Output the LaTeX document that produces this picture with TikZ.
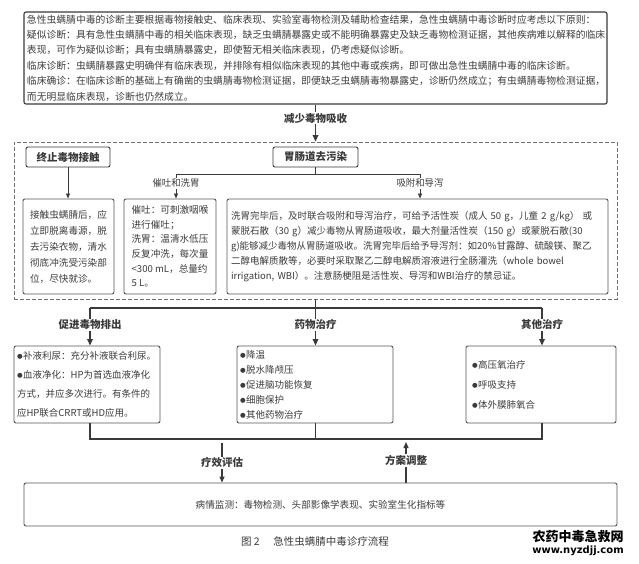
\documentclass[tikz,border=0pt]{standalone}
\usepackage{fontspec}
\setmainfont{Noto Sans CJK SC}
\newfontfamily\dvfont{DejaVu Sans}
\usetikzlibrary{arrows.meta}
\definecolor{linec}{HTML}{3A3A3A}
\definecolor{boxc}{HTML}{555555}
\definecolor{textc}{HTML}{3C3C3C}
\definecolor{dashc}{HTML}{707070}
\newcommand\mybul{{\dvfont\fontsize{6.5}{6.5}\selectfont\raisebox{0.6pt}{●}}\hspace{0.5pt}}
\begin{document}
\begin{tikzpicture}[x=1pt,y=-1pt,
  box/.style={draw=boxc, line width=0.9pt, rounded corners=2pt, fill=white, inner sep=0pt, text=textc},
  hbox/.style={box, draw=linec, font=\bfseries\fontsize{10.5}{12}\selectfont, text=linec},
  lab/.style={fill=white, inner sep=1.2pt, font=\bfseries\fontsize{10.5}{12}\selectfont, text=linec},
  sublab/.style={fill=white, inner sep=1.2pt, font=\fontsize{9.4}{11}\selectfont, text=textc},
  thinline/.style={draw=linec, line width=0.8pt},
  thinarrow/.style={thinline, -{Triangle[length=5pt,width=4pt]}},
  thickline/.style={draw=linec, line width=1.8pt},
  thickarrow/.style={thickline, -{Triangle[length=6.5pt,width=5.5pt]}},
  midarrow/.style={draw=linec, line width=1.3pt, -{Triangle[length=6pt,width=5pt]}}
]
\useasboundingbox (0,0) rectangle (639,563);

% top box
\node[box, draw=linec, line width=1.1pt, minimum width=583, minimum height=92,
      text width=577, align=left, font=\fontsize{9.8}{15.4}\selectfont] (top) at (315.5,58)
 {急性虫螨腈中毒的诊断主要根据毒物接触史、临床表现、实验室毒物检测及辅助检查结果，急性虫螨腈中毒诊断时应考虑以下原则：\\
  疑似诊断：具有急性虫螨腈中毒的相关临床表现，缺乏虫螨腈暴露史或不能明确暴露史及缺乏毒物检测证据，其他疾病难以解释的临床\\
  表现，可作为疑似诊断；具有虫螨腈暴露史，即使暂无相关临床表现，仍考虑疑似诊断。\\
  临床诊断：虫螨腈暴露史明确伴有临床表现，并排除有相似临床表现的其他中毒或疾病，即可做出急性虫螨腈中毒的临床诊断。\\
  临床确诊：在临床诊断的基础上有确凿的虫螨腈毒物检测证据，即便缺乏虫螨腈毒物暴露史，诊断仍然成立；有虫螨腈毒物检测证据，\\
  而无明显临床表现，诊断也仍然成立。};

% dashed zone
\node[draw=dashc, dash pattern=on 4pt off 2pt, line width=0.9pt, minimum width=603, minimum height=157, inner sep=0pt] (dz) at (315.5,220.5) {};

\node[hbox, minimum width=84, minimum height=20] (stop) at (68,157) {终止毒物接触};
\node[hbox, minimum width=85, minimum height=20] (gi) at (315.5,157) {胃肠道去污染};

\node[box, minimum width=91, minimum height=95, align=left, font=\fontsize{9.6}{16}\selectfont] (A) at (68.5,246.5)
 {接触虫螨腈后，应\\立即脱离毒源，脱\\去污染衣物，清水\\彻底冲洗受污染部\\位，尽快就诊。};
\node[box, minimum width=92, minimum height=95, align=left, font=\fontsize{9.6}{14.6}\selectfont] (B) at (170,246.5)
 {催吐：可刺激咽喉\\进行催吐；\\洗胃：温清水低压\\反复冲洗，每次量\\<300 mL，总量约\\5 L。};
\node[box, minimum width=381, minimum height=95, text width=373, align=left, font=\fontsize{9.5}{15}\selectfont] (C) at (417.5,246.5)
 {洗胃完毕后，及时联合吸附和导泻治疗，可给予活性炭（成人 50 g，儿童 2 g/kg） 或\\
  蒙脱石散（30 g）减少毒物从胃肠道吸收，最大剂量活性炭（150 g）或蒙脱石散(30\\
  g)能够减少毒物从胃肠道吸收。洗胃完毕后给予导泻剂：如20\%甘露醇、硫酸镁、聚乙\\
  二醇电解质散等，必要时采取聚乙二醇电解质溶液进行全肠灌洗（whole bowel\\
  irrigation, WBI）。注意肠梗阻是活性炭、导泻和WBI治疗的禁忌证。};

\coordinate (gsplit) at (315.5,174);
\coordinate (gl) at (176,174);
\coordinate (gr) at (420,174);

\draw[thickarrow] (top.south) -- node[lab, pos=0.37] {减少毒物吸收} (dz.north);
\draw[thinarrow] (stop.south) -- (stop.south |- A.north);
\draw[thinline] (gi.south) -- (gsplit);
\draw[thinline] (gl) -- (gr);
\draw[thinarrow] (gl) -- node[sublab, pos=0.38] {催吐和洗胃} (gl |- B.north);
\draw[thinarrow] (gr) -- node[sublab, pos=0.38] {吸附和导泻} (gr |- C.north);

% lower boxes
\node[box, minimum width=146, minimum height=77, text width=140, align=left, font=\fontsize{9.5}{19}\selectfont] (D) at (87,384.5)
 {\mybul 补液利尿：充分补液联合利尿。\\\mybul 血液净化：HP为首选血液净化\\方式，并应多次进行。有条件的\\应HP联合CRRT或HD应用。};
\node[box, minimum width=156, minimum height=77, text width=150, align=left, font=\fontsize{9.5}{15}\selectfont] (E) at (315,384.5)
 {\mybul 降温\\\mybul 脱水降颅压\\\mybul 促进脑功能恢复\\\mybul 细胞保护\\\mybul 其他药物治疗};
\node[box, minimum width=150, minimum height=77, text width=138, align=left, font=\fontsize{9.5}{20}\selectfont] (F) at (541,384.5)
 {\mybul 高压氧治疗\\\mybul 呼吸支持\\\mybul 体外膜肺氧合};

\coordinate (lsplit) at (315.5,308);
\coordinate (ll) at (90,308);
\coordinate (lr) at (542,308);
\draw[thickline] (dz.south) -- (lsplit);
\draw[thickline] (ll) -- (lr);
\draw[thickarrow] (ll) -- node[lab, pos=0.45] {促进毒物排出} (ll |- D.north);
\draw[thickarrow] (lsplit) -- node[lab, pos=0.45] {药物治疗} (lsplit |- E.north);
\draw[thickarrow] (lr) -- node[lab, pos=0.45] {其他治疗} (lr |- F.north);

% bottom
\coordinate (bl) at (90,439);
\coordinate (bm) at (315.5,439);
\coordinate (br) at (542,439);
\draw[thickline] (ll |- D.south) -- (bl) -- (br) -- (lr |- F.south);
\draw[thickline] (bm |- E.south) -- (bm);

\node[box, minimum width=593, minimum height=43, font=\fontsize{9.6}{12}\selectfont] (mon) at (320.5,504.5)
 {病情监测：毒物检测、头部影像学表现、实验室生化指标等};

\coordinate (evs) at (222,443);
\coordinate (adj) at (406,442);
\draw[midarrow] (evs) -- node[lab, pos=0.5] {疗效评估} (evs |- mon.north);
\draw[midarrow] (adj |- mon.north) -- node[lab, pos=0.55] {方案调整} (adj);

\node[font=\fontsize{10.5}{12}\selectfont, text=linec] (cap) at (315,542) {图 2\hspace{1.3em}急性虫螨腈中毒诊疗流程};
\node[font=\bfseries\fontsize{13}{15}\selectfont, text=black, inner sep=0pt] (wm1) at (578,537) {农药中毒急救网};
\node[font=\dvfont\bfseries\fontsize{10}{12}\selectfont, text=black, inner sep=0pt] (wm2) at (578,551) {www.nyzdjj.com};
\end{tikzpicture}
\end{document}
